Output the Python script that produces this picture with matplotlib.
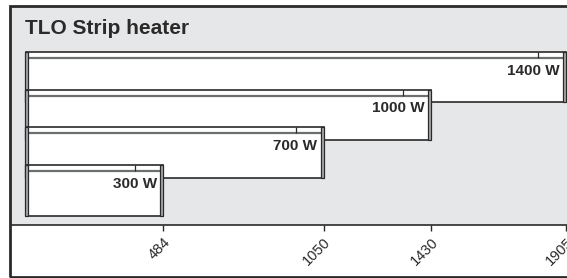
import matplotlib
matplotlib.use("Agg")
import matplotlib.pyplot as plt
from matplotlib.patches import Rectangle

plt.rcParams["font.family"] = ["Liberation Sans", "DejaVu Sans"]

# data
heaters = ["1400 W", "1000 W", "700 W", "300 W"]
lengths = [1905, 1430, 1050, 484]
tick_values = [484, 1050, 1430, 1905]
title = "TLO Strip heater"

DARK = "#2b2a2a"
MID = "#6d6e70"
CAP = "#a7a9ac"
BG = "#e6e7e8"

fig = plt.figure(figsize=(5.67, 2.78), dpi=100)
ax = fig.add_axes([11 / 567, 53 / 278, 564 / 567, 218 / 278])
ax.set_facecolor(BG)

bar_h = 1.336     # bar height in category units
strip_h = 0.16    # top strip of the heater
cap_w = 10        # end caps, in x units

for i, (name, L) in enumerate(zip(heaters, lengths)):
    z = 10 + 5 * i
    top = i - bar_h / 2
    ax.barh(i, L, height=bar_h, color="white", edgecolor=DARK, linewidth=1.2, zorder=z)
    ax.hlines(top + strip_h, 0, L, color=MID, linewidth=1.6, zorder=z + 1)
    ax.barh(i, cap_w, left=-3, height=bar_h, color=CAP, edgecolor=DARK, linewidth=0.9, zorder=z + 2)
    ax.barh(i, cap_w, left=L - cap_w, height=bar_h, color=CAP, edgecolor=DARK, linewidth=0.9, zorder=z + 2)
    ax.vlines(L - 99, top, top + strip_h, color=DARK, linewidth=0.9, zorder=z + 2)
    ax.text(L - 22, top + 0.5, name, ha="right", va="center", fontsize=11,
            fontweight="bold", color=DARK, zorder=z + 3)

ax.text(-3, -1.29, title, ha="left", va="center", fontsize=15, fontweight="bold", color=DARK)

ax.set_xlim(-53, 1937)
ax.set_ylim(3.915, -1.852)
ax.set_yticks([])
ax.set_xticks(tick_values)
ax.set_xticklabels([str(v) for v in tick_values], rotation=45, ha="right",
                   rotation_mode="anchor", fontsize=10.5, color=DARK)
ax.tick_params(axis="x", direction="out", length=4.5, width=1, color=DARK, pad=2.5)
for side in ["left", "top", "right"]:
    ax.spines[side].set_visible(False)
ax.spines["bottom"].set_color(DARK)
ax.spines["bottom"].set_linewidth(1.2)

# outer frame, runs off the right edge
fig.add_artist(Rectangle((10 / 567, 1.5 / 278), 1.0, 270.5 / 278, transform=fig.transFigure,
                         fill=False, edgecolor=DARK, linewidth=2, clip_on=False))

fig.savefig("out.png", dpi=100)
